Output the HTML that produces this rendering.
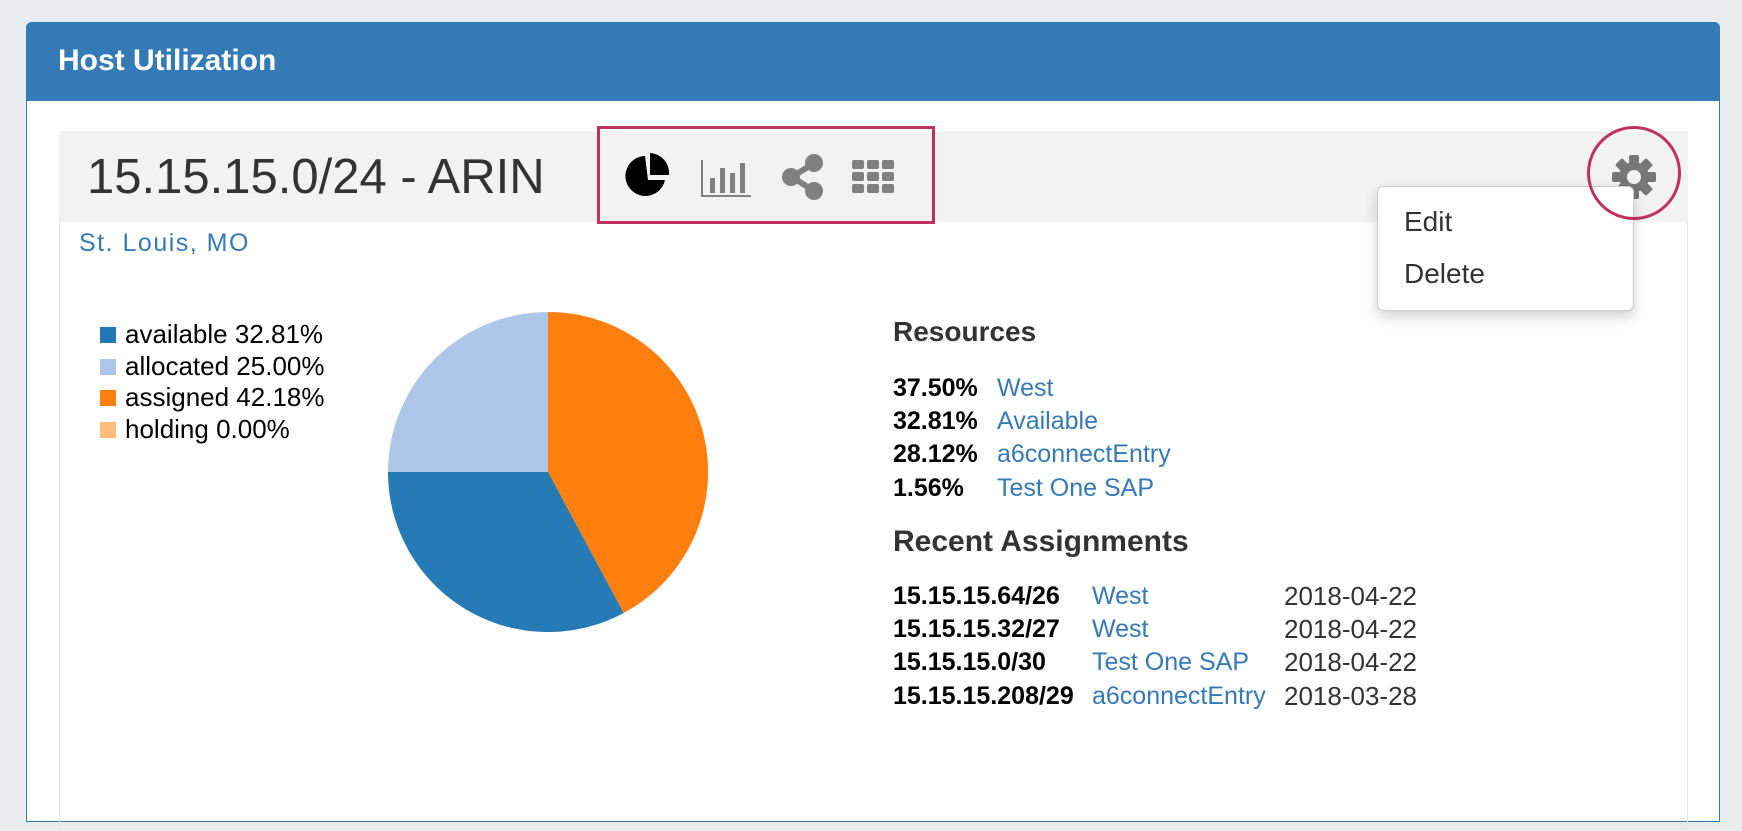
<!DOCTYPE html>
<html><head><meta charset="utf-8"><style>
*{margin:0;padding:0;box-sizing:border-box}
body{width:1742px;height:742px;background:#e9ecef;font-family:"Liberation Sans",Arial,sans-serif;position:relative;overflow:hidden;color:#333}
.a{position:absolute;white-space:nowrap}
.lk{color:#337ab7}
.r{font-size:25px;line-height:28px}
.d{font-size:26px;line-height:28px}
</style></head><body>
<div class="a" style="left:26px;top:22px;width:1694px;height:800px;background:#fff;border:1px solid #337ab7;border-radius:6px 6px 0 0"></div>
<div class="a" style="left:26px;top:22px;width:1694px;height:79px;background:#337ab7;border-radius:6px 6px 0 0"></div>
<div class="a" style="left:58px;top:44px;font-size:30px;font-weight:bold;color:#fff">Host Utilization</div>
<div class="a" style="left:59px;top:131px;width:1629px;height:700px;border:1px solid #e6e6e6"></div>
<div class="a" style="left:59px;top:131px;width:1629px;height:91px;background:#f2f2f2"></div>
<div class="a" style="left:87px;top:149px;font-size:49px;color:#333">15.15.15.0/24 - ARIN</div>
<div class="a" style="left:597px;top:126px;width:338px;height:98px;border:3px solid #c0325e"></div>
<svg class="a" style="left:0;top:0" width="1742" height="742">
<path d="M647,154 A20,20 0 1,0 667,178 L650,178 Z" fill="#000" transform="translate(-2,2)"/>
<path d="M649,154 L649,176 L668,176 A20,20 0 0,0 649,154 Z" fill="#000" transform="translate(1,-1)"/>
<path d="M702,160 V196 H751" stroke="#808080" stroke-width="2" fill="none"/>
<rect x="710" y="178" width="5" height="15" fill="#808080"/>
<rect x="720" y="168" width="5" height="25" fill="#808080"/>
<rect x="730" y="173" width="5" height="20" fill="#808080"/>
<rect x="740" y="163" width="5" height="30" fill="#808080"/>
<line x1="792" y1="177" x2="814" y2="163" stroke="#808080" stroke-width="6"/>
<line x1="792" y1="177" x2="814" y2="191" stroke="#808080" stroke-width="6"/>
<circle cx="791" cy="177" r="9" fill="#808080"/><circle cx="814" cy="163" r="9" fill="#808080"/><circle cx="814" cy="191" r="9" fill="#808080"/>
<g fill="#808080">
<rect x="852" y="160" width="12" height="9" rx="2"/><rect x="867" y="160" width="12" height="9" rx="2"/><rect x="882" y="160" width="12" height="9" rx="2"/>
<rect x="852" y="172" width="12" height="9" rx="2"/><rect x="867" y="172" width="12" height="9" rx="2"/><rect x="882" y="172" width="12" height="9" rx="2"/>
<rect x="852" y="184" width="12" height="9" rx="2"/><rect x="867" y="184" width="12" height="9" rx="2"/><rect x="882" y="184" width="12" height="9" rx="2"/>
</g>
<g transform="translate(1634,177)" fill="#777">
<circle r="15"/>
<g><rect x="-5" y="-22" width="10" height="44" rx="2"/><rect x="-5" y="-22" width="10" height="44" rx="2" transform="rotate(45)"/><rect x="-5" y="-22" width="10" height="44" rx="2" transform="rotate(90)"/><rect x="-5" y="-22" width="10" height="44" rx="2" transform="rotate(135)"/></g>
<circle r="7" fill="#f2f2f2"/>
</g>
<g transform="translate(548,472)">
<path d="M0,0 L0,-160 A160,160 0 0,1 75.7,141 Z" fill="#ff7f0e"/>
<path d="M0,0 L75.7,141 A160,160 0 0,1 -160,0 Z" fill="#1f77b4" opacity="0.97"/>
<path d="M0,0 L-160,0 A160,160 0 0,1 0,-160 Z" fill="#aec7e8"/>
</g>
</svg>
<div class="a" style="left:1377px;top:186px;width:257px;height:125px;background:#fff;border:1px solid #ccc;border-radius:6px;box-shadow:0 6px 14px rgba(0,0,0,0.18)"></div>
<div class="a" style="left:1404px;top:206px;font-size:28px">Edit</div>
<div class="a" style="left:1404px;top:258px;font-size:28px">Delete</div>
<div class="a" style="left:1587px;top:126px;width:94px;height:94px;border:3px solid #c0325e;border-radius:50%"></div>
<div class="a lk" style="left:79px;top:229px;font-size:25px;letter-spacing:1.5px">St. Louis, MO</div>
<div class="a" style="left:100px;top:327px;width:16px;height:16px;background:#1f77b4"></div>
<div class="a" style="left:100px;top:359px;width:16px;height:16px;background:#aec7e8"></div>
<div class="a" style="left:100px;top:390px;width:16px;height:16px;background:#ff7f0e"></div>
<div class="a" style="left:100px;top:422px;width:16px;height:16px;background:#ffbb78"></div>
<div class="a" style="left:125px;top:319px;font-size:26px;line-height:30px;color:#000">available 32.81%</div>
<div class="a" style="left:125px;top:351px;font-size:26px;line-height:30px;color:#000">allocated 25.00%</div>
<div class="a" style="left:125px;top:382px;font-size:26px;line-height:30px;color:#000">assigned 42.18%</div>
<div class="a" style="left:125px;top:414px;font-size:26px;line-height:30px;color:#000">holding 0.00%</div>
<div class="a" style="left:893px;top:316px;font-size:28px;font-weight:bold">Resources</div>
<div class="a r" style="left:893px;top:374px"><b style="color:#000">37.50%</b></div><div class="a lk r" style="left:997px;top:374px">West</div>
<div class="a r" style="left:893px;top:407px"><b style="color:#000">32.81%</b></div><div class="a lk r" style="left:997px;top:407px">Available</div>
<div class="a r" style="left:893px;top:440px"><b style="color:#000">28.12%</b></div><div class="a lk r" style="left:997px;top:440px">a6connectEntry</div>
<div class="a r" style="left:893px;top:474px"><b style="color:#000">1.56%</b></div><div class="a lk r" style="left:997px;top:474px">Test One SAP</div>
<div class="a" style="left:893px;top:525px;font-size:30px;font-weight:bold">Recent Assignments</div>
<div class="a r" style="left:893px;top:582px"><b style="color:#000">15.15.15.64/26</b></div><div class="a lk r" style="left:1092px;top:582px">West</div><div class="a d" style="left:1284px;top:582px">2018-04-22</div>
<div class="a r" style="left:893px;top:615px"><b style="color:#000">15.15.15.32/27</b></div><div class="a lk r" style="left:1092px;top:615px">West</div><div class="a d" style="left:1284px;top:615px">2018-04-22</div>
<div class="a r" style="left:893px;top:648px"><b style="color:#000">15.15.15.0/30</b></div><div class="a lk r" style="left:1092px;top:648px">Test One SAP</div><div class="a d" style="left:1284px;top:648px">2018-04-22</div>
<div class="a r" style="left:893px;top:682px"><b style="color:#000">15.15.15.208/29</b></div><div class="a lk r" style="left:1092px;top:682px">a6connectEntry</div><div class="a d" style="left:1284px;top:682px">2018-03-28</div>
</body></html>
